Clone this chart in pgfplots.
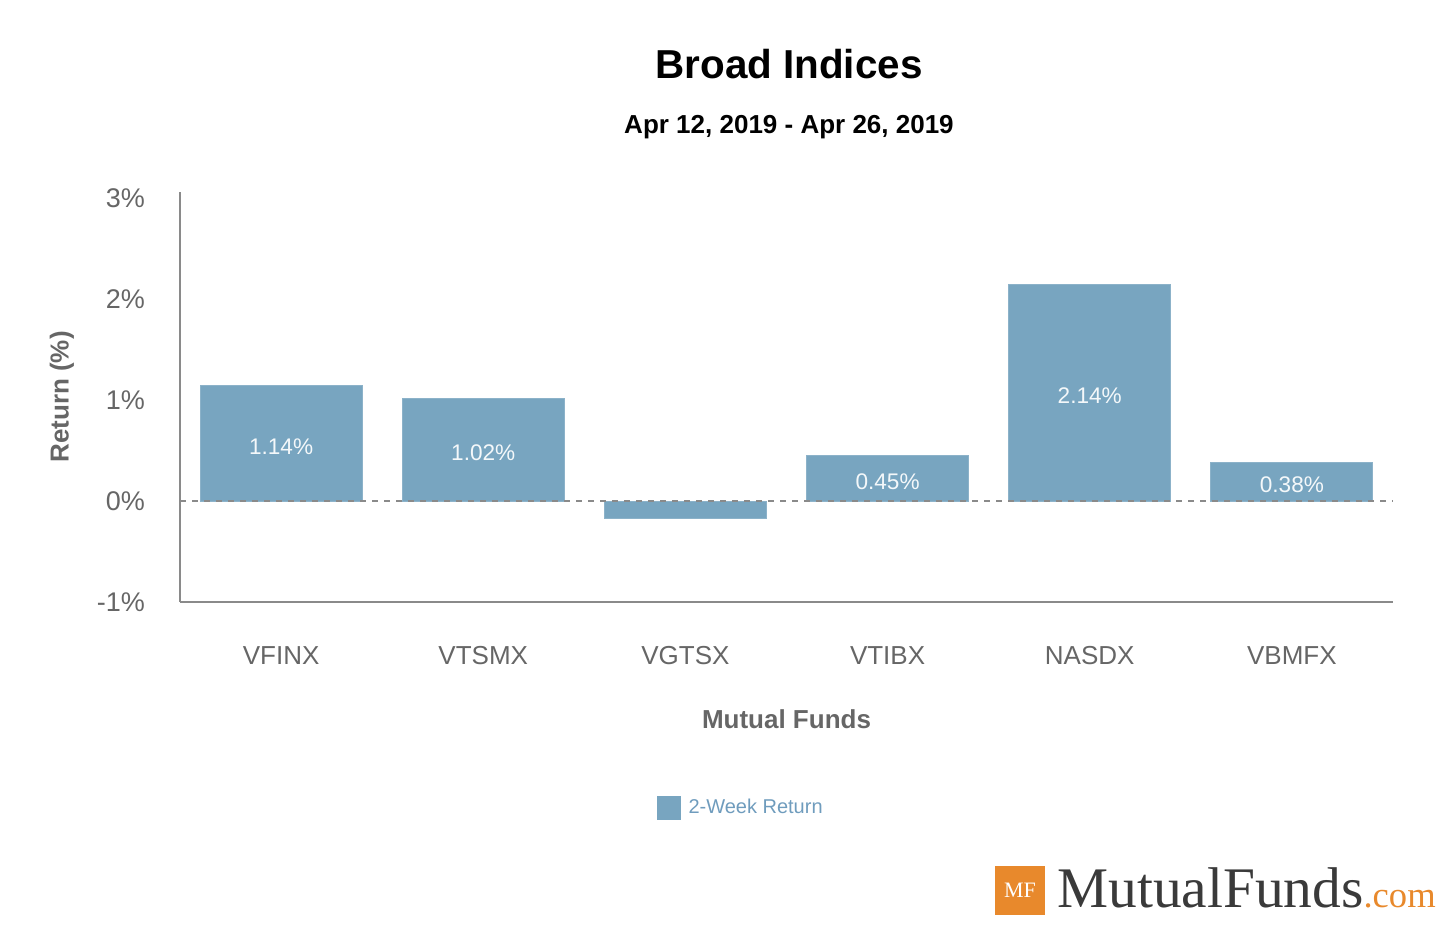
\documentclass[border=0pt]{standalone}
\usepackage{pgfplots}
\pgfplotsset{compat=1.18}
\usepackage{fontspec}
\setmainfont{Liberation Sans}
\newfontfamily\logofont{Liberation Serif}

\definecolor{barblue}{HTML}{78A5C0}
\definecolor{axisgrey}{HTML}{8A8A8A}
\definecolor{textgrey}{HTML}{666666}
\definecolor{legblue}{HTML}{6F9CBD}
\definecolor{mforange}{HTML}{E8892C}
\definecolor{logodark}{HTML}{3A3A3A}

\begin{document}
\begin{tikzpicture}
% page = 1445 x 925 px at 0.5pt per px
\path (0,0) rectangle (722.5pt,462.5pt);

\node[font=\bfseries\fontsize{20.2}{24}\selectfont] at (394.5pt,430.5pt) {Broad Indices};
\node[font=\bfseries\fontsize{13}{15}\selectfont] at (394.5pt,399pt) {Apr 12, 2019 - Apr 26, 2019};

\begin{axis}[
  at={(90pt,161.5pt)}, anchor=south west,
  scale only axis, width=606.5pt, height=205pt,
  xmin=-0.5, xmax=5.5, ymin=-1, ymax=3.06,
  axis x line*=bottom, axis y line*=left,
  axis line style={axisgrey, line width=1pt},
  major tick length=0pt,
  xtick=data,
  xticklabels={VFINX,VTSMX,VGTSX,VTIBX,NASDX,VBMFX},
  ytick={-1,0,1,2,3},
  yticklabel={\pgfmathprintnumber{\tick}\%},
  /pgf/number format/assume math mode=true,
  ticklabel style={text=textgrey},
  yticklabel style={anchor=east, xshift=-14pt, font=\fontsize{13.5}{16}\selectfont},
  xticklabel style={anchor=north, yshift=-17pt, text height=2ex, text depth=0.4ex,
    font=\fontsize{13}{16}\selectfont},
  xlabel={Mutual Funds},
  ylabel={Return (\%)},
  label style={font=\bfseries\fontsize{13}{15}\selectfont, text=textgrey},
  xlabel style={at={(rel axis cs:0.5,-0.285)}, anchor=center},
  ylabel style={at={(rel axis cs:-0.0973,0.5)}, anchor=center},
  legend style={at={(rel axis cs:0.463,-0.502)}, anchor=center, draw=none, fill=none,
    font=\fontsize{10}{12}\selectfont, text=legblue},
  legend image code/.code={\fill[barblue] (0pt,-5.75pt) rectangle (11.5pt,5.75pt);
    \path (13.5pt,0pt);},
]
\addplot[ybar, bar width=81pt, fill=barblue, draw=barblue!85!white, line width=0.5pt,
  point meta=explicit symbolic,
  visualization depends on={rawy \as \rawy},
  nodes near coords,
  every node near coord/.append style={anchor=center, yshift=-25.25*\rawy-1.5,
    font=\fontsize{11.3}{13}\selectfont, text=white!92!barblue}]
  coordinates {
  (0,1.14) [1.14\%]
  (1,1.02) [1.02\%]
  (2,-0.17) []
  (3,0.45) [0.45\%]
  (4,2.14) [2.14\%]
  (5,0.38) [0.38\%]
};
\addlegendentry{2-Week Return}
\draw[axisgrey, line width=0.7pt, dash pattern=on 3pt off 3pt] (axis cs:-0.5,0) -- (axis cs:5.5,0);
\end{axis}

% logo
\fill[mforange] (497.5pt,5pt) rectangle (522.5pt,29.5pt);
\node[font=\logofont\fontsize{11}{12}\selectfont, text=white] at (510pt,17.5pt) {MF};
\node[anchor=base west, inner sep=0pt, font=\logofont\fontsize{28.7}{30}\selectfont, text=logodark]
  at (528.5pt,8.5pt) {MutualFunds\textcolor{mforange}{\fontsize{18.3}{20}\selectfont.com}};
\end{tikzpicture}
\end{document}
